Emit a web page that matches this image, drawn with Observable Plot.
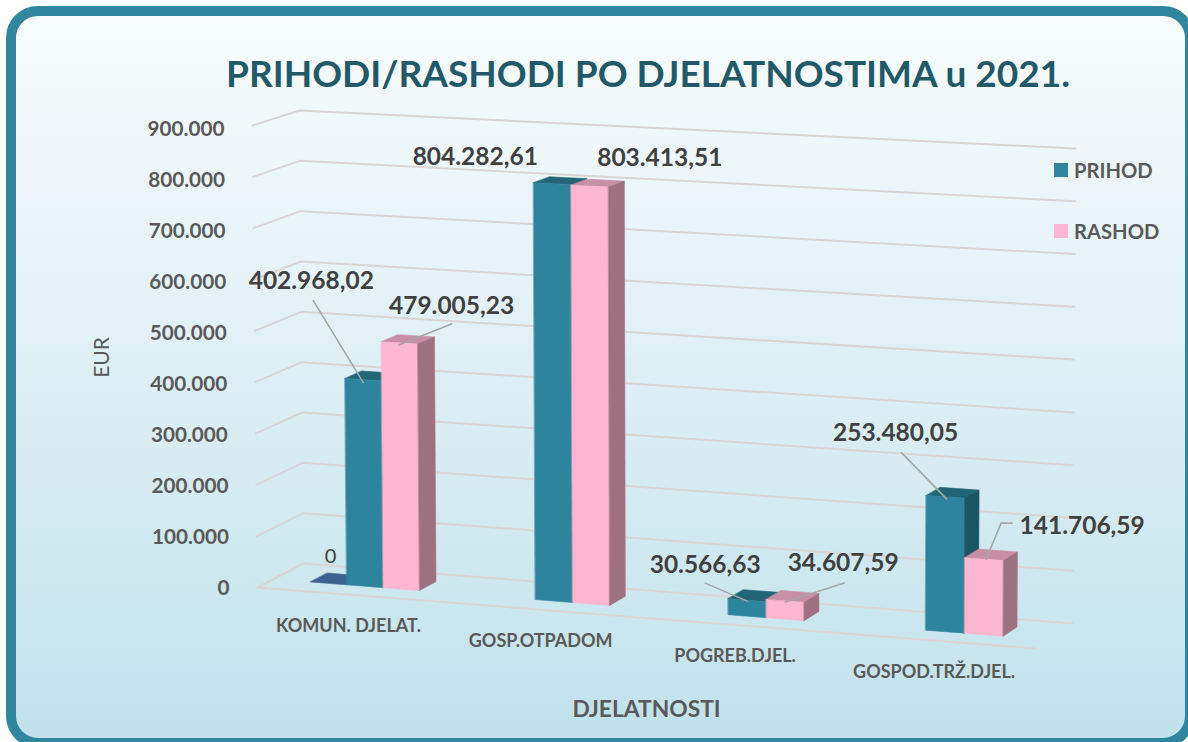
<!DOCTYPE html>
<html lang="hr">
<head>
<meta charset="utf-8">
<script src="https://cdn.jsdelivr.net/npm/d3@7"></script>
<script src="https://cdn.jsdelivr.net/npm/@observablehq/plot@0.6"></script>
<style>
  html, body { margin: 0; padding: 0; background: #fff; width: 1188px; height: 742px; overflow: hidden; }
  body { position: relative; font-family: Lato, "Open Sans", sans-serif; }
  #frame { position: absolute; left: 6px; top: 6px; width: 1169px; height: 722px; border: 10.5px solid #30859f; border-radius: 32px;
    background: linear-gradient(180deg, #f8fcfd 0%, #e6f3f7 35%, #c1e2eb 100%); }
  #chart { position: absolute; left: 0; top: 0; }
  #chart svg { background: transparent; display: block; }
  h1 { position: absolute; left: 0; width: 1296px; top: 46px; margin: 0; text-align: center; color: #215968;
       font: 700 37px/54px Lato, sans-serif; white-space: nowrap; }
  .leg { position: absolute; left: 1054px; display: flex; align-items: center; height: 20px; color: #595959; font: 700 20.2px Lato, sans-serif; }
  .leg i { display: block; width: 14px; height: 14px; margin-right: 6px; }
</style>
</head>
<body>
<div id="frame"></div>
<div id="chart"></div>
<h1>PRIHODI/RASHODI PO DJELATNOSTIMA u 2021.</h1>
<div class="leg" style="top:160px"><i style="background:#30859f"></i>PRIHOD</div>
<div class="leg" style="top:221px"><i style="background:#fdb6d1"></i>RASHOD</div>
<script>
// ---- data ----
const categories = ["KOMUN. DJELAT.", "GOSP.OTPADOM", "POGREB.DJEL.", "GOSPOD.TRŽ.DJEL."];
const prihod = [402968.02, 804282.61, 30566.63, 253480.05];
const rashod = [479005.23, 803413.51, 34607.59, 141706.59];
const nultaSerija = [0];
const ticks = [0, 100000, 200000, 300000, 400000, 500000, 600000, 700000, 800000, 900000];

// ---- layout of the oblique box ----
const vMax = 900000;
const pxX = 778, pxY = 462;               // pixels per scale unit
const X = p => p / pxX, Y = p => p / pxY * vMax;
// box corners as offsets, in scale units
const cF0 = [0, 0], cB0 = [X(46), Y(24)], cFR0 = [1, Y(-61)], cBR0 = [X(815), Y(-36)];
const cF1 = [X(-5), vMax], cB1 = [X(42), Y(477)], cFR1 = [X(781), Y(424)], cBR1 = [X(818), Y(439)];
const lerp = (a, b, t) => a + (b - a) * t;
function project(u, d, v) {
  const t = v / vMax;
  return [0, 1].map(k => {
    const f0 = lerp(cF0[k], cFR0[k], u), b0 = lerp(cB0[k], cBR0[k], u);
    const f1 = lerp(cF1[k], cFR1[k], u), b1 = lerp(cB1[k], cBR1[k], u);
    return lerp(lerp(f0, b0, d), lerp(f1, b1, d), t);
  });
}
const shift = (p, dx, dy) => [p[0] + X(dx), p[1] + Y(-dy)];

const catCenter = [0.1414, 0.3858, 0.6357, 0.8915];
const catHalf = [0.047, 0.048, 0.049, 0.05];
const d0 = 0.35, d1 = 0.72;
const colors = {
  P: {front: "#2f849d", top: "#226577", side: "#1c5464"},
  R: {front: "#fdb6d1", top: "#c78ea6", side: "#9e7181"},
  Z: {top: "#3f6190"}
};

function poly(points, fill) {
  return Plot.line(points.map(p => ({x: p[0], y: p[1]})), {x: "x", y: "y", fill, stroke: fill, strokeWidth: 0.6, curve: "linear-closed"});
}
function barMarks(u0, u1, v, c) {
  const marks = [
    poly([project(u0, d0, v), project(u1, d0, v), project(u1, d1, v), project(u0, d1, v)], c.top)
  ];
  if (c.front) {
    marks.push(poly([project(u0, d0, 0), project(u1, d0, 0), project(u1, d0, v), project(u0, d0, v)], c.front));
    marks.push(poly([project(u1, d0, 0), project(u1, d1, 0), project(u1, d1, v), project(u1, d0, v)], c.side));
  }
  return marks;
}

// ---- gridlines ----
const gridRows = ticks.flatMap(v => [
  {v, p: project(0, 0, v)}, {v, p: project(0, 1, v)}, {v, p: project(1, 1, v)}
]).map(r => ({v: r.v, x: r.p[0], y: r.p[1]}));
const floorFront = [project(0, 0, 0), project(1, 0, 0)].map(p => ({x: p[0], y: p[1]}));

// ---- number formats ----
const loc = d3.formatLocale({decimal: ",", thousands: ".", grouping: [3], currency: ["", ""]});
const fmtVal = loc.format(",.2f"), fmtTick = loc.format(",.0f");

// ---- value labels and their leaders (pixel offsets from the bar-top centre) ----
const labelLayout = {
  P: [
    {label: [-52, -98], leader: [[-50, -79], [0, 3]]},
    {label: [-77, -27], leader: null},
    {label: [-42, -35], leader: [[-42, -17], [0, 1]]},
    {label: [-50, -64], leader: [[-44, -44], [1, 2]]}
  ],
  R: [
    {label: [52, -37], leader: [[52, -19], [-1, 2]]},
    {label: [70, -28], leader: null},
    {label: [58, -38], leader: [[59, -18], [0, 1]]},
    {label: [98, -33], leader: [[28, -36], [17, -36], [2, 0]]}
  ]
};

const barsMarks = [], labelRows = [], leaderRows = [];
categories.forEach((cat, i) => {
  const c = catCenter[i], half = catHalf[i];
  if (nultaSerija[i] !== undefined) barsMarks.push(...barMarks(c - 2 * half, c - half, nultaSerija[i], colors.Z));
  [["P", prihod[i], c - half, c], ["R", rashod[i], c, c + half]].forEach(([s, v, u0, u1]) => {
    barsMarks.push(...barMarks(u0, u1, v, colors[s]));
    const top = project((u0 + u1) / 2, d0, v);
    const lay = labelLayout[s][i];
    const lp = shift(top, ...lay.label);
    labelRows.push({x: lp[0], y: lp[1], text: fmtVal(v)});
    if (lay.leader) lay.leader.forEach(o => {
      const q = shift(top, ...o);
      leaderRows.push({id: s + i, x: q[0], y: q[1]});
    });
  });
});
const zeroTop = shift(project(catCenter[0] - 1.5 * catHalf[0], d0, nultaSerija[0]), 2, -27);

const catRows = categories.map((c, i) => {
  const p = shift(project(catCenter[i], 0, 0), [-19, -17, -17, -17][i], 30);
  return {x: p[0], y: p[1], text: c};
});
const tickRows = ticks.map(v => {
  const p = shift(project(0, 0, v), -28, 0.5 + 3 * v / vMax);
  return {x: p[0], y: p[1], text: fmtTick(v)};
});
const eurPos = shift(project(0, 0, 450000), -153, 1);
const xTitlePos = shift(project(0.5, 0, 0), 0, 0);

const plot = Plot.plot({
  width: 1188, height: 742,
  marginTop: 0, marginRight: 0, marginBottom: 0, marginLeft: 0,
  style: {background: "transparent", fontFamily: "Lato, sans-serif"},
  x: {domain: [0, 1], range: [257, 257 + pxX], axis: null},
  y: {domain: [0, vMax], range: [587, 587 - pxY], axis: null},
  marks: [
    Plot.line(gridRows, {x: "x", y: "y", z: "v", stroke: "#d9d5d5", strokeWidth: 2, curve: "linear"}),
    Plot.line(floorFront, {x: "x", y: "y", stroke: "#d9d5d5", strokeWidth: 2}),
    ...barsMarks,
    Plot.line(leaderRows, {x: "x", y: "y", z: "id", stroke: "#a6a6a6", strokeWidth: 1.6}),
    Plot.text(labelRows, {x: "x", y: "y", text: "text", fontSize: 24.5, fontWeight: 700, fill: "#404040", lineAnchor: "middle"}),
    Plot.text([{x: zeroTop[0], y: zeroTop[1]}], {x: "x", y: "y", text: () => "0", fontSize: 20, fill: "#404040", lineAnchor: "middle"}),
    Plot.text(tickRows, {x: "x", y: "y", text: "text", textAnchor: "end", fontSize: 20.7, fontWeight: 700, fill: "#595959", lineAnchor: "middle"}),
    Plot.text(catRows, {x: "x", y: "y", text: "text", fontSize: 18, fontWeight: 700, fill: "#595959", lineAnchor: "middle"}),
    Plot.text([{x: eurPos[0], y: eurPos[1]}], {x: "x", y: "y", text: () => "EUR", rotate: -90, fontSize: 21, fill: "#595959", lineAnchor: "middle"}),
    Plot.text([{x: xTitlePos[0], y: xTitlePos[1]}], {x: "x", y: "y", dy: 92, text: () => "DJELATNOSTI", fontSize: 22.8, fontWeight: 700, fill: "#595959", lineAnchor: "middle"})
  ]
});
document.getElementById("chart").append(plot);
</script>
</body>
</html>
